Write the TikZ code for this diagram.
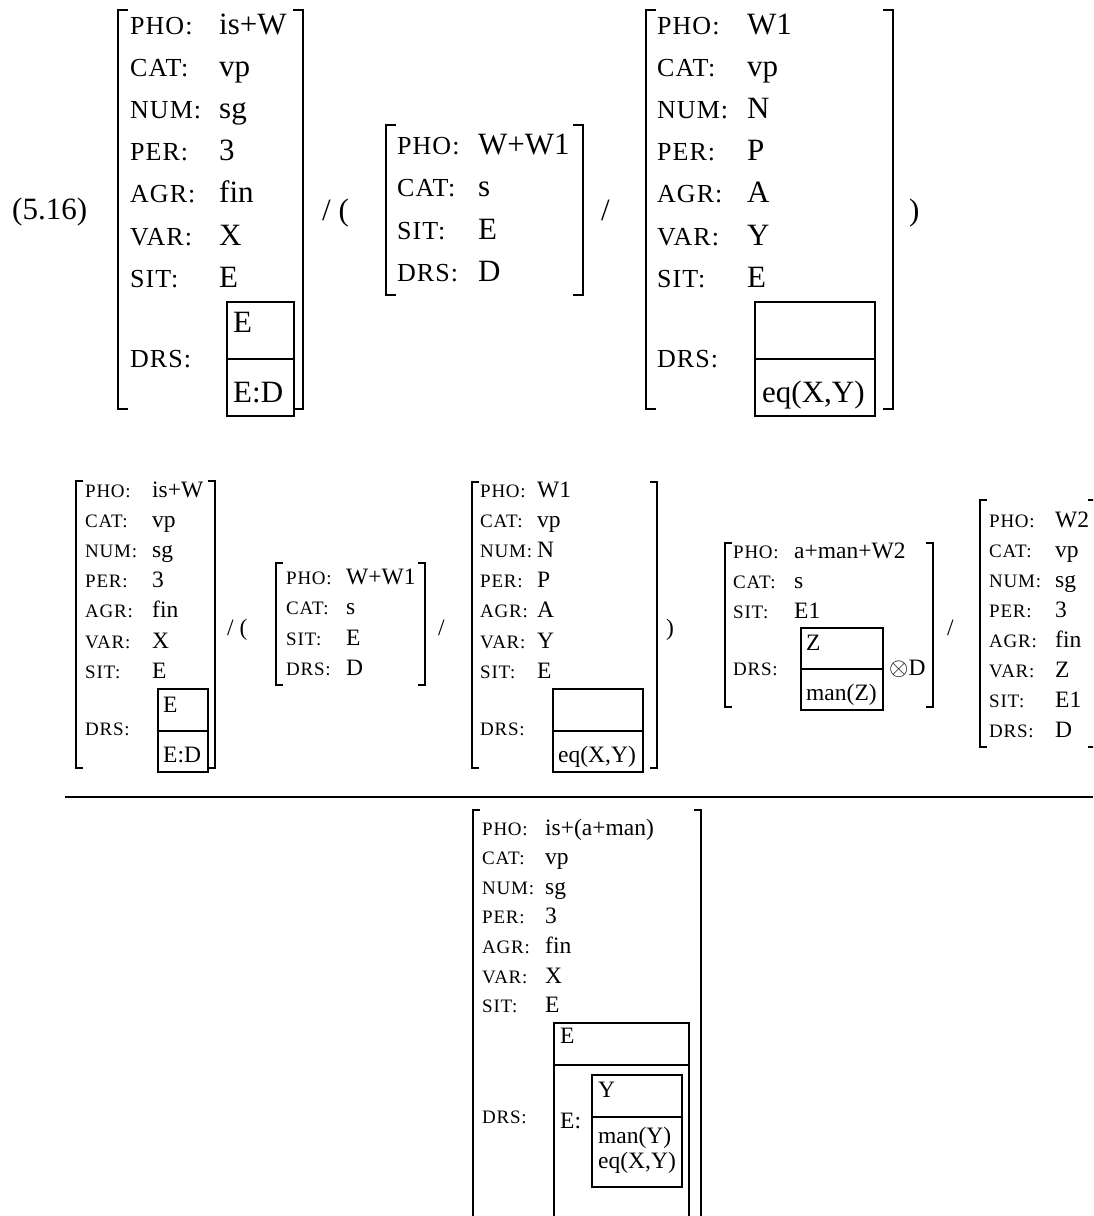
\documentclass[tikz,border=0pt]{standalone}
\usepackage{fontspec}
\setmainfont{Liberation Serif}
\newfontfamily\keyfont[LetterSpace=4]{Liberation Serif}
\usepackage{tikz}

\begin{document}
\begin{tikzpicture}[x=1pt, y=-1pt,
  bigkey/.style={anchor=base west, inner sep=0pt, font=\keyfont\fontsize{26}{26}\selectfont},
  bigval/.style={anchor=base west, inner sep=0pt, font=\fontsize{31}{31}\selectfont},
  smallkey/.style={anchor=base west, inner sep=0pt, font=\keyfont\fontsize{19}{19}\selectfont},
  smallval/.style={anchor=base west, inner sep=0pt, font=\fontsize{23.5}{23.5}\selectfont},
  bigbrk/.style={line width=2pt},
  smallbrk/.style={line width=1.4pt},
  bigdrs/.style={line width=1.6pt},
  smalldrs/.style={line width=1.2pt}]
\useasboundingbox (0,0) rectangle (1093,1216);
\clip (0,0) rectangle (1093,1216);

% ---- rule (5.16) : premises, top line ----
\node[bigval] (exno) at (12,219) {(5.16)};

% first sign: is+W
\draw[bigbrk] (128,10) -- (118,10) -- (118,409) -- (128,409);
\draw[bigbrk] (293,10) -- (303,10) -- (303,409) -- (293,409);
\foreach \fk/\fv [count=\i] in {PHO/is+W, CAT/vp, NUM/sg, PER/3, AGR/fin, VAR/X, SIT/E}{
  \node[bigkey] (s1k\i) at (130,{34+42.2*(\i-1)}) {\fk:};
  \node[bigval] (s1v\i) at (219,{34+42.2*(\i-1)}) {\fv};
}
\node[bigkey] (s1drs) at (130,367) {DRS:};
\draw[bigdrs] (227,302) rectangle (294,416);
\draw[bigdrs] (227,359) -- (294,359);
\node[bigval] (s1ref) at (233,332) {E};
\node[bigval] (s1con) at (233,402) {E:D};

\node[bigval] (op1) at (322,220) {/ (};

% second sign: W+W1
\draw[bigbrk] (396,125) -- (386,125) -- (386,295) -- (396,295);
\draw[bigbrk] (573,125) -- (583,125) -- (583,295) -- (573,295);
\foreach \fk/\fv [count=\i] in {PHO/W+W1, CAT/s, SIT/E, DRS/D}{
  \node[bigkey] (s2k\i) at (397,{154+42.5*(\i-1)}) {\fk:};
  \node[bigval] (s2v\i) at (478,{154+42.5*(\i-1)}) {\fv};
}

\node[bigval] (op2) at (601,220) {/};

% third sign: W1
\draw[bigbrk] (656,10) -- (646,10) -- (646,409) -- (656,409);
\draw[bigbrk] (883,10) -- (893,10) -- (893,409) -- (883,409);
\foreach \fk/\fv [count=\i] in {PHO/W1, CAT/vp, NUM/N, PER/P, AGR/A, VAR/Y, SIT/E}{
  \node[bigkey] (s3k\i) at (657,{34+42.2*(\i-1)}) {\fk:};
  \node[bigval] (s3v\i) at (747,{34+42.2*(\i-1)}) {\fv};
}
\node[bigkey] (s3drs) at (657,367) {DRS:};
\draw[bigdrs] (755,302) rectangle (875,416);
\draw[bigdrs] (755,359) -- (875,359);
\node[bigval] (s3con) at (762,402) {eq(X,Y)};

\node[bigval] (op3) at (909,220) {)};

% ---- second line : the rule applied ----
% sign A: is+W
\draw[smallbrk] (83,481) -- (76,481) -- (76,768) -- (83,768);
\draw[smallbrk] (208,481) -- (215,481) -- (215,768) -- (208,768);
\foreach \fk/\fv [count=\i] in {PHO/is+W, CAT/vp, NUM/sg, PER/3, AGR/fin, VAR/X, SIT/E}{
  \node[smallkey] (s4k\i) at (85,{497+30.2*(\i-1)}) {\fk:};
  \node[smallval] (s4v\i) at (152,{497+30.2*(\i-1)}) {\fv};
}
\node[smallkey] (s4drs) at (85,735) {DRS:};
\draw[smalldrs] (158,689) rectangle (208,772);
\draw[smalldrs] (158,731) -- (208,731);
\node[smallval] (s4ref) at (163,712) {E};
\node[smallval] (s4con) at (163,762) {E:D};

\node[smallval] (op4) at (227,635) {/ (};

% sign B: W+W1
\draw[smallbrk] (283,563) -- (276,563) -- (276,685) -- (283,685);
\draw[smallbrk] (418,563) -- (425,563) -- (425,685) -- (418,685);
\foreach \fk/\fv [count=\i] in {PHO/W+W1, CAT/s, SIT/E, DRS/D}{
  \node[smallkey] (s5k\i) at (286,{584+30.5*(\i-1)}) {\fk:};
  \node[smallval] (s5v\i) at (346,{584+30.5*(\i-1)}) {\fv};
}

\node[smallval] (op5) at (438,635) {/};

% sign C: W1
\draw[smallbrk] (479,482) -- (472,482) -- (472,768) -- (479,768);
\draw[smallbrk] (650,482) -- (657,482) -- (657,768) -- (650,768);
\foreach \fk/\fv [count=\i] in {PHO/W1, CAT/vp, NUM/N, PER/P, AGR/A, VAR/Y, SIT/E}{
  \node[smallkey] (s6k\i) at (480,{497+30.2*(\i-1)}) {\fk:};
  \node[smallval] (s6v\i) at (537,{497+30.2*(\i-1)}) {\fv};
}
\node[smallkey] (s6drs) at (480,735) {DRS:};
\draw[smalldrs] (553,689) rectangle (643,772);
\draw[smalldrs] (553,731) -- (643,731);
\node[smallval] (s6con) at (558,762) {eq(X,Y)};

\node[smallval] (op6) at (666,635) {)};

% sign D: a+man+W2
\draw[smallbrk] (732,543) -- (725,543) -- (725,707) -- (732,707);
\draw[smallbrk] (926,543) -- (933,543) -- (933,707) -- (926,707);
\foreach \fk/\fv [count=\i] in {PHO/a+man+W2, CAT/s, SIT/E1}{
  \node[smallkey] (s7k\i) at (733,{558+30*(\i-1)}) {\fk:};
  \node[smallval] (s7v\i) at (794,{558+30*(\i-1)}) {\fv};
}
\node[smallkey] (s7drs) at (733,675) {DRS:};
\draw[smalldrs] (801,628) rectangle (883,710);
\draw[smalldrs] (801,669) -- (883,669);
\node[smallval] (s7ref) at (806,650) {Z};
\node[smallval] (s7con) at (806,700) {man(Z)};
\node[smallval] (s7mrg) at (889,675) {$\otimes$D};

\node[smallval] (op7) at (947,635) {/};

% sign E: W2
\draw[smallbrk] (987,500) -- (980,500) -- (980,747) -- (987,747);
\draw[smallbrk] (1088,500) -- (1095,500) -- (1095,747) -- (1088,747);
\foreach \fk/\fv [count=\i] in {PHO/W2, CAT/vp, NUM/sg, PER/3, AGR/fin, VAR/Z, SIT/E1, DRS/D}{
  \node[smallkey] (s8k\i) at (989,{527+30*(\i-1)}) {\fk:};
  \node[smallval] (s8v\i) at (1055,{527+30*(\i-1)}) {\fv};
}

% ---- the inference line and the result ----
\draw[line width=1.3pt] (65,797) -- (1093,797);

\draw[smallbrk] (480,810) -- (473,810) -- (473,1230);
\draw[smallbrk] (694,810) -- (701,810) -- (701,1230);
\foreach \fk/\fv [count=\i] in {PHO/is+(a+man), CAT/vp, NUM/sg, PER/3, AGR/fin, VAR/X, SIT/E}{
  \node[smallkey] (s9k\i) at (482,{835+29.6*(\i-1)}) {\fk:};
  \node[smallval] (s9v\i) at (545,{835+29.6*(\i-1)}) {\fv};
}
\node[smallkey] (s9drs) at (482,1123) {DRS:};
\draw[smalldrs] (554,1230) -- (554,1023) -- (689,1023) -- (689,1230);
\draw[smalldrs] (554,1065) -- (689,1065);
\node[smallval] (s9ref) at (560,1043) {E};
\node[smallval] (s9cnd) at (560,1128) {E:};
\draw[smalldrs] (592,1075) rectangle (682,1187);
\draw[smalldrs] (592,1117) -- (682,1117);
\node[smallval] (s9sref) at (598,1097) {Y};
\node[smallval] (s9scon) at (598,1143) {man(Y)};
\node[smallval] (s9seq) at (598,1168) {eq(X,Y)};
\end{tikzpicture}
\end{document}
